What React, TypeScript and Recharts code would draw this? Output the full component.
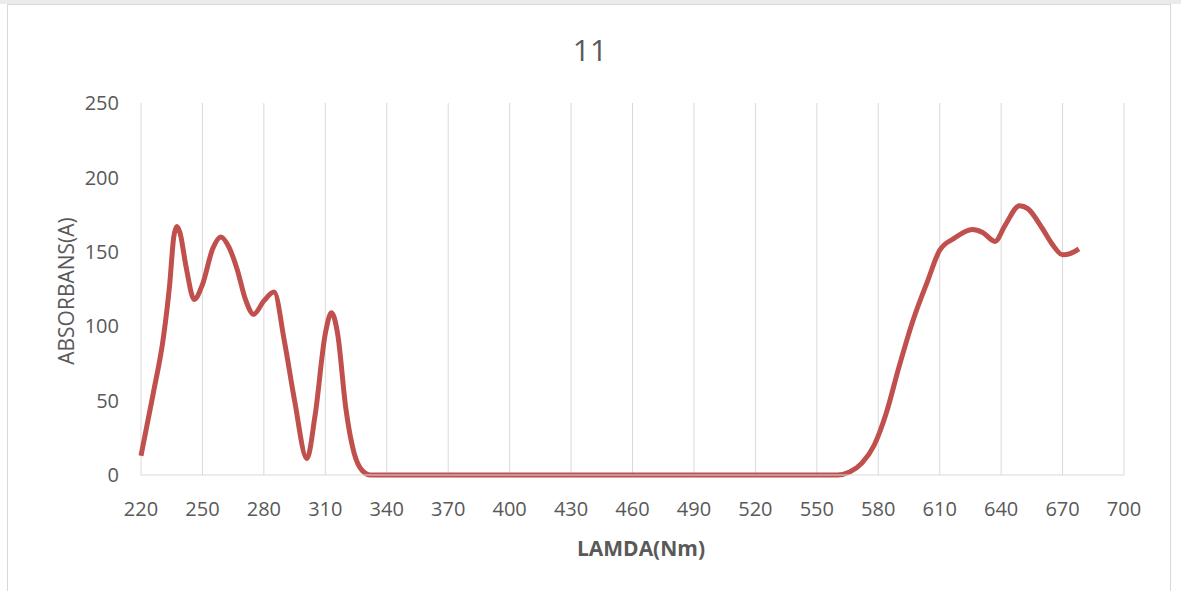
import React from "react";
import { LineChart, Line, XAxis, YAxis, CartesianGrid } from "recharts";

const wavelengths = [
  220, 226, 231, 234, 236, 237.5, 239, 242, 246, 250, 255, 259, 263, 267, 271, 275, 280, 285, 290, 295, 301, 305,
  310, 313, 316, 320, 324, 328, 332, 340, 400, 450, 500, 550, 560, 566, 572, 578, 584, 590, 597, 604, 610,
  617, 626, 631, 637, 642, 649, 653, 660, 665, 670, 674, 678,
];
const absorbance = [
  13, 55, 93, 128, 160, 167, 163, 140, 118, 128, 152, 160, 153, 138, 118, 108, 117, 123, 90, 50, 11, 40,
  95, 109, 95, 45, 15, 3, 0, 0, 0, 0, 0, 0, 0, 2, 8, 20, 42, 72, 104, 130, 151,
  159, 165, 163, 157, 168, 181, 179, 166, 155, 148, 149, 152,
];
const xTicks = [220, 250, 280, 310, 340, 370, 400, 430, 460, 490, 520, 550, 580, 610, 640, 670, 700];
const yTicks = [0, 50, 100, 150, 200, 250];
const chartTitle = "11";
const xTitle = "LAMDA(Nm)";
const yTitle = "ABSORBANS(A)";

const data = wavelengths.map((w, i) => ({ w, a: absorbance[i] }));

const font = "'Open Sans', 'Liberation Sans', sans-serif";
const textColor = "#595959";

export default function App() {
  return (
    <div style={{ position: "absolute", left: 0, top: 0, width: 1181, height: 591, background: "#fff", overflow: "hidden", fontFamily: font }}>
      <div style={{ position: "absolute", left: 0, top: 0, width: 1181, height: 4, background: "#ebebeb" }} />
      <div style={{ position: "absolute", left: 7, top: 4, width: 1162, height: 620, border: "1px solid #d9d9d9" }} />
      <div style={{ position: "absolute", left: 0, top: 0 }}>
        <LineChart width={1181} height={591} data={data} margin={{ top: 103, right: 57, bottom: 76, left: 61 }}>
          <CartesianGrid horizontal={false} stroke="#d9d9d9" strokeWidth={1} />
          <XAxis
            dataKey="w"
            type="number"
            domain={[220, 700]}
            ticks={xTicks}
            height={40}
            axisLine={{ stroke: "#d9d9d9" }}
            tickLine={false}
            tickSize={6}
            tickMargin={21}
            tick={{ fill: textColor, fontSize: 20, fontFamily: font }}
            interval={0}
          />
          <YAxis
            type="number"
            domain={[0, 250]}
            ticks={yTicks}
            width={80}
            axisLine={false}
            tickLine={false}
            tickSize={6}
            tickMargin={16}
            tick={{ fill: textColor, fontSize: 20, fontFamily: font }}
            interval={0}
          />
          <Line
            type="monotone"
            dataKey="a"
            stroke="#c0504d"
            strokeWidth={5}
            dot={false}
            isAnimationActive={false}
          />
        </LineChart>
      </div>
      <div style={{ position: "absolute", left: 490, width: 200, top: 31, textAlign: "center", fontSize: 30, color: textColor, lineHeight: "38px" }}>
        {chartTitle}
      </div>
      <div style={{ position: "absolute", left: 541, width: 200, top: 533, textAlign: "center", fontSize: 21, fontWeight: "bold", color: textColor, lineHeight: "30px" }}>
        {xTitle}
      </div>
      <div style={{ position: "absolute", left: 66 - 100, width: 200, top: 291 - 15, textAlign: "center", fontSize: 21, color: textColor, lineHeight: "30px", transform: "rotate(-90deg)" }}>
        {yTitle}
      </div>
    </div>
  );
}
